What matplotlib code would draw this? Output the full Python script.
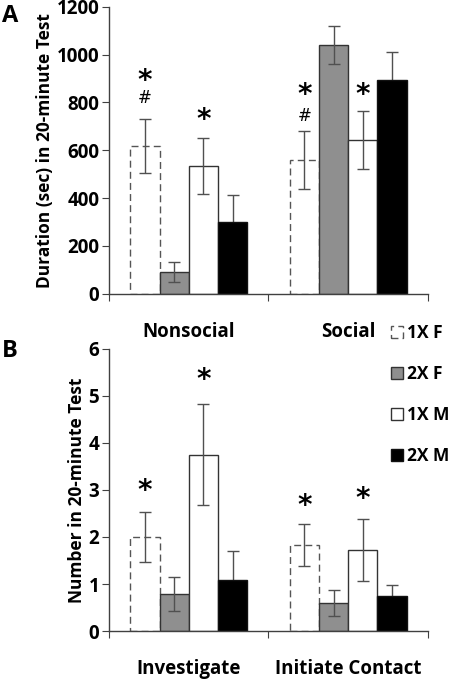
import numpy as np
import matplotlib
matplotlib.use('Agg')
import matplotlib.pyplot as plt
from matplotlib.patches import Patch

plt.rcParams['font.family'] = ['Open Sans', 'DejaVu Sans']
plt.rcParams['font.weight'] = 'bold'

groups = ['1X F', '2X F', '1X M', '2X M']

# Panel A: duration (sec)
cats_a = ['Nonsocial', 'Social']
mean_a = {'1X F': [618, 560], '2X F': [91, 1040], '1X M': [535, 643], '2X M': [301, 892]}
err_a = {'1X F': [114, 122], '2X F': [40, 80], '1X M': [117, 122], '2X M': [114, 117]}
stars_a = {'1X F': [914, 856], '1X M': [753, 858]}
hash_a = {'1X F': [818, 744]}

# Panel B: counts
cats_b = ['Investigate', 'Initiate Contact']
mean_b = {'1X F': [2.0, 1.83], '2X F': [0.78, 0.60], '1X M': [3.75, 1.73], '2X M': [1.09, 0.75]}
err_b = {'1X F': [0.54, 0.45], '2X F': [0.36, 0.27], '1X M': [1.07, 0.66], '2X M': [0.61, 0.22]}
stars_b = {'1X F': [3.09, 2.78], '1X M': [5.46, 2.93]}

face = {'1X F': 'white', '2X F': '#8f8f8f', '1X M': 'white', '2X M': 'black'}
edge = {'1X F': '#555555', '2X F': '#333333', '1X M': '#333333', '2X M': '#111111'}
ls = {'1X F': (0, (5, 3)), '2X F': 'solid', '1X M': 'solid', '2X M': 'solid'}

width = 0.183
centers = np.array([0.5, 1.5])

fig = plt.figure(figsize=(4.52, 6.8), dpi=100)
ax_a = fig.add_axes([0.241, 0.568, 0.706, 0.422])
ax_b = fig.add_axes([0.241, 0.072, 0.706, 0.415])


def draw(ax, cats, means, errs, ylim, yticks, ylabel, stars, hashes=None, star_off=0):
    for i, g in enumerate(groups):
        x = centers + (i - 1.5) * width
        ax.bar(x, means[g], width, color=face[g], edgecolor=edge[g],
               linewidth=1.0, linestyle=ls[g], zorder=2)
        # error bars hide behind the black bars, as in the original
        ez = 1 if g == '2X M' else 3
        ax.errorbar(x, means[g], yerr=errs[g], fmt='none', ecolor='#505050',
                    elinewidth=1.0, capsize=4, capthick=1.0, zorder=ez)
        if g in stars:
            for xx, yy in zip(x, stars[g]):
                ax.text(xx, yy - star_off, '*', ha='center', va='center',
                        fontsize=20, fontweight='bold', family='DejaVu Sans')
        if hashes and g in hashes:
            for xx, yy in zip(x, hashes[g]):
                ax.text(xx, yy, '#', ha='center', va='center',
                        fontsize=12, fontweight='normal', family='DejaVu Sans')
    ax.set_xlim(0, 2)
    ax.set_ylim(*ylim)
    ax.set_yticks(yticks)
    ax.set_yticklabels([str(t) for t in yticks], fontsize=13.5, fontweight='bold')
    ax.set_xticks([0, 1, 2])
    ax.set_xticklabels([])
    ax.set_xticks(centers, minor=True)
    ax.set_xticklabels(cats, minor=True, fontsize=13.5, fontweight='bold')
    ax.tick_params(axis='x', which='major', direction='out', length=5, color='#404040')
    ax.tick_params(axis='x', which='minor', length=0, pad=20)
    ax.tick_params(axis='y', direction='out', length=5, color='#404040', pad=2)
    ax.set_ylabel(ylabel, fontsize=12.5, fontweight='bold', labelpad=2)
    for s in ['top', 'right']:
        ax.spines[s].set_visible(False)
    for s in ['left', 'bottom']:
        ax.spines[s].set_color('#404040')
        ax.spines[s].set_linewidth(1.0)
    ax.spines['bottom'].set_zorder(4)


draw(ax_a, cats_a, mean_a, err_a, (0, 1200), list(range(0, 1201, 200)),
     'Duration (sec) in 20-minute Test', stars_a, hash_a, star_off=25)
draw(ax_b, cats_b, mean_b, err_b, (0, 6), list(range(0, 7)),
     'Number in 20-minute Test', stars_b, star_off=0.12)

fig.text(0.005, 0.977, 'A', fontsize=17, fontweight='bold', va='center')
fig.text(0.005, 0.484, 'B', fontsize=17, fontweight='bold', va='center')

handles = [Patch(facecolor=face[g], edgecolor=edge[g], linestyle=ls[g], linewidth=1.0)
           for g in groups]
fig.legend(handles, groups, loc='upper left', bbox_to_anchor=(0.864, 0.523),
           frameon=False, handlelength=0.7, handleheight=0.7,
           handletextpad=0.25, labelspacing=1.32, borderaxespad=0,
           borderpad=0, prop={'weight': 'bold', 'size': 12.5})

fig.savefig('out.png', dpi=100)
